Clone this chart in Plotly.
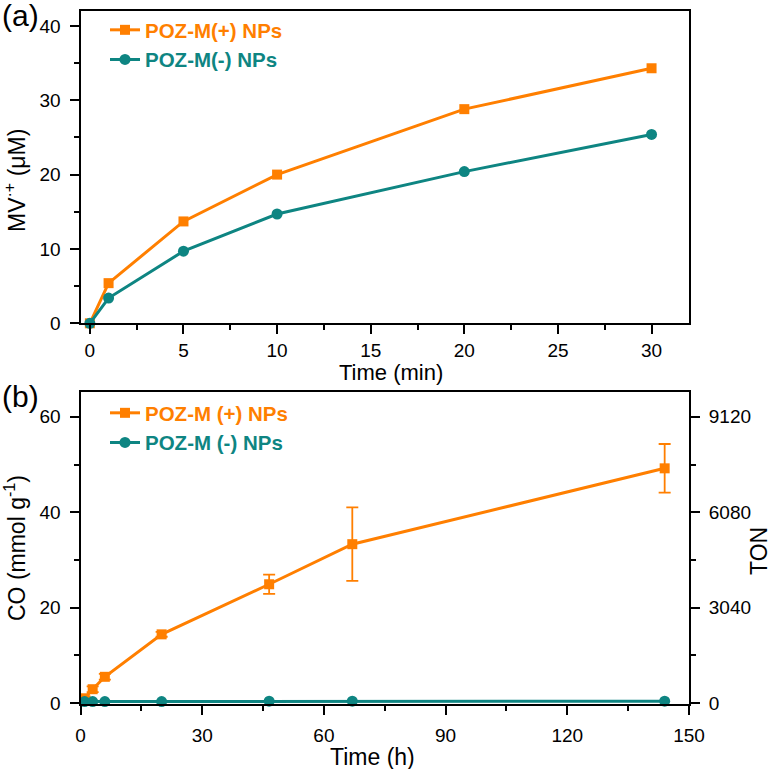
import plotly.graph_objects as go

# ---------------- data ----------------
# panel (a)
t_min = [0, 1, 5, 10, 20, 30]
mv_pos = [0.0, 5.4, 13.7, 20.0, 28.8, 34.3]
mv_neg = [0.0, 3.4, 9.7, 14.7, 20.4, 25.4]

# panel (b)
t_h = [1, 3, 6, 20, 46.5, 67, 144]
co_pos = [1.0, 2.9, 5.5, 14.4, 24.9, 33.3, 49.2]
co_pos_err = [0.4, 0.6, 0.6, 0.5, 2.0, 7.7, 5.1]
co_neg = [0.3, 0.3, 0.3, 0.3, 0.4, 0.4, 0.4]

# tick definitions
ya_ticks = [0, 10, 20, 30, 40]
xa_ticks = [0, 5, 10, 15, 20, 25, 30]
yb_ticks = [0, 20, 40, 60]
xb_ticks = [0, 30, 60, 90, 120, 150]
ton_ticks = [0, 3040, 6080, 9120]
TON_FACTOR = 152  # 60 mmol/g <-> 9120 TON

ORANGE = "#FF7F00"
TEAL = "#0E8582"
FONT = "Liberation Sans, Arial, sans-serif"

W, H = 774, 769
def px(x):
    return x / W
def py(y):
    return 1 - y / H

fig = go.Figure()

# ---- panel (a)
fig.add_trace(go.Scatter(
    x=t_min, y=mv_pos, mode="lines+markers",
    name=f"<span style='color:{ORANGE}'><b>POZ-M(+) NPs</b></span>",
    line=dict(color=ORANGE, width=3),
    marker=dict(symbol="square", size=10, color=ORANGE),
    xaxis="x", yaxis="y", legend="legend", cliponaxis=False))
fig.add_trace(go.Scatter(
    x=t_min, y=mv_neg, mode="lines+markers",
    name=f"<span style='color:{TEAL}'><b>POZ-M(-) NPs</b></span>",
    line=dict(color=TEAL, width=3),
    marker=dict(symbol="circle", size=11, color=TEAL),
    xaxis="x", yaxis="y", legend="legend", cliponaxis=False))

# ---- panel (b)
fig.add_trace(go.Scatter(
    x=t_h, y=co_pos, mode="lines+markers",
    name=f"<span style='color:{ORANGE}'><b>POZ-M (+) NPs</b></span>",
    line=dict(color=ORANGE, width=3),
    marker=dict(symbol="square", size=10, color=ORANGE),
    error_y=dict(type="data", array=co_pos_err, color=ORANGE, thickness=1.8, width=6),
    xaxis="x2", yaxis="y2", legend="legend2", cliponaxis=False))
fig.add_trace(go.Scatter(
    x=t_h, y=co_neg, mode="lines+markers",
    name=f"<span style='color:{TEAL}'><b>POZ-M (-) NPs</b></span>",
    line=dict(color=TEAL, width=3),
    marker=dict(symbol="circle", size=11, color=TEAL),
    xaxis="x2", yaxis="y2", legend="legend2", cliponaxis=False))
# empty trace so the TON axis is drawn
fig.add_trace(go.Scatter(x=[None], y=[None], xaxis="x2", yaxis="y3",
                         showlegend=False, hoverinfo="skip"))

xdom = [px(80.5), px(689)]
ydom_a = [py(323.3), py(11)]
ydom_b = [py(704), py(392)]

tickfont = dict(family=FONT, size=19, color="black")
common = dict(showline=True, linecolor="black", linewidth=2, ticks="outside",
              ticklen=9, tickwidth=2, tickcolor="black", showgrid=False,
              zeroline=False, tickfont=tickfont, automargin=False)
minor_style = dict(ticks="outside", ticklen=5, tickwidth=2, tickcolor="black")

yb_range = [-0.2, 65.2]

fig.update_layout(
    width=W, height=H,
    margin=dict(l=0, r=0, t=0, b=0),
    plot_bgcolor="white", paper_bgcolor="white",
    font=dict(family=FONT, color="black"),
    xaxis=dict(domain=xdom, range=[-0.5, 32], tickvals=xa_ticks, mirror=True,
               minor=dict(dtick=2.5, tick0=0, **minor_style),
               anchor="y", ticklabelstandoff=0, **common),
    yaxis=dict(domain=ydom_a, range=[0, 42], tickvals=ya_ticks, mirror=True,
               minor=dict(dtick=5, tick0=0, **minor_style),
               anchor="x", ticklabelstandoff=5, **common),
    xaxis2=dict(domain=xdom, range=[0, 150], tickvals=xb_ticks, mirror=True,
                minor=dict(dtick=15, tick0=0, **minor_style),
                anchor="y2", ticklabelstandoff=4, **common),
    yaxis2=dict(domain=ydom_b, range=yb_range, tickvals=yb_ticks, mirror=True,
                minor=dict(dtick=10, tick0=0, **minor_style),
                anchor="x2", ticklabelstandoff=5, **common),
    yaxis3=dict(overlaying="y2", side="right", anchor="x2",
                range=[yb_range[0] * TON_FACTOR, yb_range[1] * TON_FACTOR],
                tickvals=ton_ticks,
                minor=dict(dtick=1520, tick0=0, **minor_style),
                ticklabelstandoff=5, **common),
    legend=dict(x=px(105), y=py(10), xanchor="left", yanchor="top",
                bgcolor="rgba(0,0,0,0)", borderwidth=0, tracegroupgap=0,
                font=dict(family=FONT, size=20.5)),
    legend2=dict(x=px(105), y=py(393), xanchor="left", yanchor="top",
                 bgcolor="rgba(0,0,0,0)", borderwidth=0, tracegroupgap=0,
                 font=dict(family=FONT, size=20.5)),
)

ann_font = dict(family=FONT, size=23, color="black")
annotations = [
    dict(text="(a)", x=px(0), y=py(16), xanchor="left", yanchor="middle",
         font=dict(family=FONT, size=30, color="black")),
    dict(text="(b)", x=px(0), y=py(396), xanchor="left", yanchor="middle",
         font=dict(family=FONT, size=30, color="black")),
    dict(text="MV<sup>·+</sup> (μM)", x=px(15), y=py(181), textangle=-90,
         xanchor="center", yanchor="middle", font=ann_font),
    dict(text="Time (min)", x=px(391), y=py(372), xanchor="center", yanchor="middle",
         font=dict(family=FONT, size=22, color="black")),
    dict(text="CO (mmol g<sup>-1</sup>)", x=px(15), y=py(548), textangle=-90,
         xanchor="center", yanchor="middle", font=ann_font),
    dict(text="Time (h)", x=px(372), y=py(757), xanchor="center", yanchor="middle",
         font=ann_font),
    dict(text="TON", x=px(759), y=py(551), textangle=-90,
         xanchor="center", yanchor="middle", font=ann_font),
]
for a in annotations:
    a.update(xref="paper", yref="paper", showarrow=False)
fig.update_layout(annotations=annotations)

fig.write_html("out.html")
